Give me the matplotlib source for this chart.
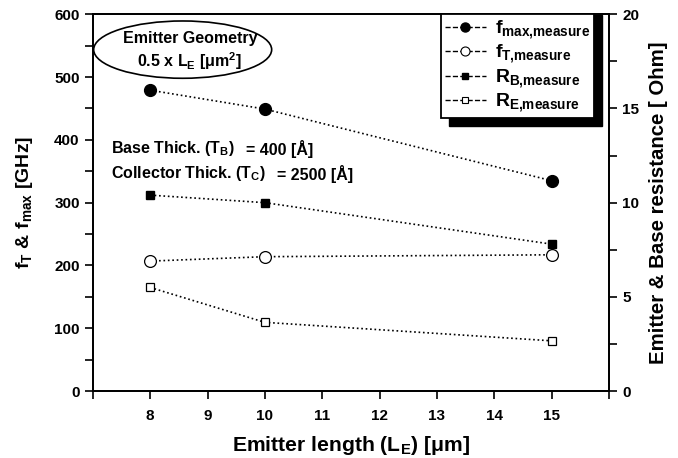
import matplotlib
matplotlib.use('Agg')
import matplotlib.pyplot as plt
from matplotlib.lines import Line2D
from matplotlib.patches import Ellipse, Rectangle
from matplotlib.ticker import MultipleLocator

plt.rcParams['font.family'] = ['Liberation Sans', 'DejaVu Sans']
plt.rcParams['font.weight'] = 'bold'
plt.rcParams['axes.labelweight'] = 'bold'
plt.rcParams['mathtext.fontset'] = 'custom'
plt.rcParams['mathtext.rm'] = 'Liberation Sans:bold'
plt.rcParams['mathtext.it'] = 'Liberation Sans:bold'
plt.rcParams['mathtext.bf'] = 'Liberation Sans:bold'

# data
emitter_length = [8, 10, 15]
f_max = [479, 449, 335]
f_t = [207, 214, 217]
r_b = [10.4, 10.0, 7.8]
r_e = [5.5, 3.65, 2.67]

labels = [r'$f_{max{,}measure}$', r'$f_{T{,}measure}$',
          r'$R_{B{,}measure}$', r'$R_{E{,}measure}$']

fig = plt.figure(figsize=(6.78, 4.58), dpi=100)
ax = fig.add_axes([0.137, 0.146, 0.761, 0.823])
ax2 = ax.twinx()

ax.plot(emitter_length, f_max, ':', color='k', marker='o', ms=8.5, mfc='k', lw=1.2)
ax.plot(emitter_length, f_t, ':', color='k', marker='o', ms=8.5, mfc='white', mew=0.9, lw=1.2)
ax2.plot(emitter_length, r_b, ':', color='k', marker='s', ms=6.3, mfc='k', lw=1.2)
ax2.plot(emitter_length, r_e, ':', color='k', marker='s', ms=6.3, mfc='white', mew=0.9, lw=1.2)

ax.set_xlim(7, 16)
ax.set_ylim(0, 600)
ax2.set_ylim(0, 20)
ax.set_xticks(range(8, 16))
ax.xaxis.set_minor_locator(MultipleLocator(1))
ax.yaxis.set_major_locator(MultipleLocator(100))
ax.yaxis.set_minor_locator(MultipleLocator(50))
ax2.yaxis.set_major_locator(MultipleLocator(5))
ax2.yaxis.set_minor_locator(MultipleLocator(2.5))

for a in (ax, ax2):
    a.tick_params(which='major', direction='out', length=6, width=1.2, labelsize=11)
    a.tick_params(which='minor', direction='out', length=6, width=1.2)
    for s in a.spines.values():
        s.set_linewidth(1.3)
ax.tick_params(axis='x', pad=7)

ax.set_xlabel(r'Emitter length (L$_E$) [μm]', fontsize=15.2, labelpad=8)
ax.set_ylabel(r'f$_T$ & f$_{max}$ [GHz]', fontsize=14, labelpad=14)
ax2.set_ylabel('Emitter & Base resistance [ Ohm]', fontsize=14.7, labelpad=7)

# ellipse annotation
ax.add_patch(Ellipse((0.174, 0.906), 0.345, 0.152, transform=ax.transAxes,
                     fill=False, ec='k', lw=1.2, zorder=5))
ax.text(0.188, 0.935, 'Emitter Geometry', transform=ax.transAxes,
        ha='center', va='center', fontsize=11.5)
ax.text(0.188, 0.876, r'0.5 x L$_E$ [μm$^2$]', transform=ax.transAxes,
        ha='center', va='center', fontsize=11.5)

ax.text(0.036, 0.643, r'Base Thick. (T$_B$)', transform=ax.transAxes,
        ha='left', va='center', fontsize=11.5)
ax.text(0.297, 0.643, '= 400 [Å]', transform=ax.transAxes,
        ha='left', va='center', fontsize=11.5)
ax.text(0.036, 0.577, r'Collector Thick. (T$_C$)', transform=ax.transAxes,
        ha='left', va='center', fontsize=11.5)
ax.text(0.356, 0.577, '= 2500 [Å]', transform=ax.transAxes,
        ha='left', va='center', fontsize=11.5)

# legend
handles = [
    Line2D([], [], ls='--', color='k', marker='o', ms=6.5, mfc='k', lw=1),
    Line2D([], [], ls='--', color='k', marker='o', ms=6.5, mfc='white', mew=0.8, lw=1),
    Line2D([], [], ls='--', color='k', marker='s', ms=5, mfc='k', lw=1),
    Line2D([], [], ls='--', color='k', marker='s', ms=5, mfc='white', mew=0.8, lw=1),
]
leg = ax2.legend(handles, labels, loc='upper left', bbox_to_anchor=(0.675, 1.0),
                 fontsize=14, frameon=True, fancybox=False, edgecolor='k',
                 framealpha=1, handlelength=2.1, handletextpad=0.45,
                 labelspacing=0.08, borderpad=0.2, borderaxespad=0)
leg.get_frame().set_linewidth(1.3)
leg.set_zorder(10)

# thick black drop shadow right and below the legend box
fig.canvas.draw()
bb = leg.get_window_extent()
W, H = fig.bbox.width, fig.bbox.height
off = 8
shadow = Rectangle(((bb.x0 + off) / W, (bb.y0 - off) / H), bb.width / W,
                   (bb.height + off - 1) / H, transform=fig.transFigure,
                   color='k', zorder=9)
ax2.add_patch(shadow)
shadow.set_clip_on(False)

fig.savefig('out.png', dpi=100)
